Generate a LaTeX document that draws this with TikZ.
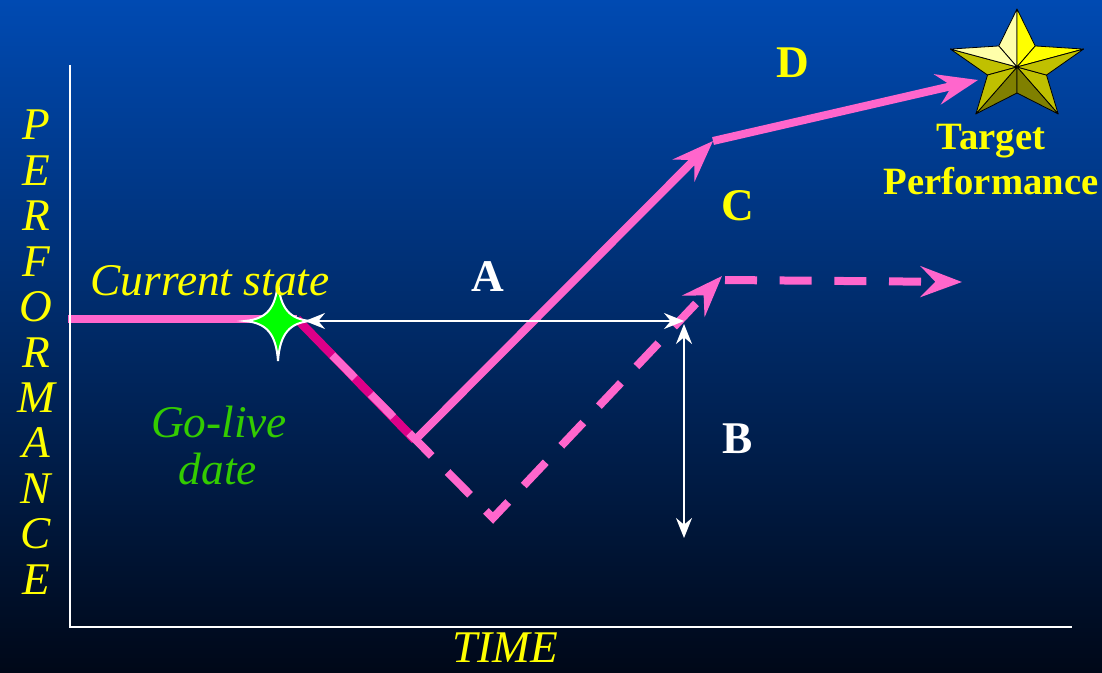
\documentclass[tikz,border=0pt]{standalone}
\usepackage{fontspec}
\setmainfont{Liberation Serif}
\usetikzlibrary{arrows.meta, calc}
\definecolor{bgtop}{RGB}{0,74,178}
\definecolor{bgmid}{RGB}{0,40,108}
\definecolor{bgbot}{RGB}{0,8,24}
\definecolor{trendpink}{RGB}{255,102,204}
\definecolor{dippink}{RGB}{221,0,136}
\definecolor{labelyellow}{RGB}{255,255,0}
\definecolor{golivegreen}{RGB}{51,204,0}
\definecolor{starlight}{RGB}{255,255,170}
\definecolor{staryellow}{RGB}{255,255,0}
\definecolor{starolive}{RGB}{192,192,0}
\definecolor{stardark}{RGB}{128,128,0}
\tikzset{
  axisline/.style={draw=white, line width=2.2pt, line join=miter},
  trendline/.style={draw=trendpink, line width=6pt},
  trendarr/.style={trendline, -{Stealth[length=31pt, width=23pt, inset=11pt]}},
  planarr/.style={trendarr, dash pattern=on 24pt off 17pt},
  dipline/.style={draw=dippink, line width=6.5pt},
  gaparr/.style={draw=white, line width=1.5pt,
                 {Stealth[length=15pt, width=12pt, inset=5pt]}-{Stealth[length=15pt, width=12pt, inset=5pt]}},
  axislabel/.style={text=labelyellow, font=\fontsize{34}{34}\selectfont\itshape,
                    inner sep=0pt, anchor=base},
  golivelabel/.style={axislabel, text=golivegreen},
  pathlabel/.style={text=labelyellow, font=\fontsize{34}{34}\selectfont\bfseries,
                    inner sep=0pt, anchor=base},
  gaplabel/.style={pathlabel, text=white},
  targetlabel/.style={pathlabel, font=\fontsize{29}{29}\selectfont\bfseries},
  starface/.style={draw=black, line width=0.6pt, line join=round},
}

\begin{document}
\begin{tikzpicture}[x=0.75pt, y=-0.75pt]
  % Background
  \useasboundingbox (0,0) rectangle (1102,673);
  \shade[top color=bgtop, middle color=bgmid, bottom color=bgbot] (0,0) rectangle (1102,673);

  % Coordinates
  \coordinate (origin) at (70,627);
  \coordinate (ytop) at (70,65);
  \coordinate (xend) at (1072,627);
  \coordinate (start) at (68,319);
  \coordinate (golive) at (278,321);
  \coordinate (drop) at (297,319);
  \coordinate (low) at (415,440);
  \coordinate (dashstart) at ($(drop)!0.3!(low)$);
  \coordinate (dip) at (493,518);
  \coordinate (cnew) at (722,276);
  \coordinate (cflat) at (725,280);
  \coordinate (cend) at (962,282);
  \coordinate (knee) at (713,141);
  \coordinate (dend) at (978,80);
  \coordinate (astart) at (305,321);
  \coordinate (aend) at (684,321);
  \coordinate (bstart) at (684,324);
  \coordinate (bend) at (684,538);
  \coordinate (target) at (1017,67);

  % Trend lines
  \draw[trendline] (start) -- (drop);
  \draw[dipline] (drop) -- (low);
  \draw[planarr] (dashstart) -- (dip) -- (cnew);
  \draw[planarr] (cflat) -- (cend);
  \draw[trendarr] (low) -- (knee);
  \draw[trendarr] (knee) -- (dend);

  % Axes
  \draw[axisline] (ytop) -- (origin) -- (xend);

  % Gap arrows
  \draw[gaparr] (astart) -- (aend);
  \draw[gaparr] (bstart) -- (bend);

  % Go-live marker
  \begin{scope}[shift={(golive)}]
    \filldraw[fill=green, draw=white, line width=1.5pt]
      (0,-40) .. controls (2,-12) and (12,-2) .. (32,0)
      .. controls (12,2) and (2,12) .. (0,40)
      .. controls (-2,12) and (-12,2) .. (-33,0)
      .. controls (-12,-2) and (-2,-12) .. (0,-40) -- cycle;
  \end{scope}

  % Target star
  \begin{scope}[shift={(target)}]
    \foreach \a/\cl/\cr in {90/starlight/staryellow, 162/starolive/starlight,
                            234/stardark/starolive, 306/starolive/stardark,
                            18/staryellow/starolive}{
      \filldraw[starface, fill=\cl] (0,0) -- (-\a:70 and 58) -- ({-\a-36}:31 and 26) -- cycle;
      \filldraw[starface, fill=\cr] (0,0) -- (-\a:70 and 58) -- ({-\a+36}:31 and 26) -- cycle;
    }
  \end{scope}

  % Labels
  \foreach \l [count=\i] in {P,E,R,F,O,R,M,A,N,C,E}
    \node[axislabel] (perf\i) at (36,{140+45.4*(\i-1)}) {\l};
  \node[axislabel] (timelabel) at (505,662) {TIME};
  \node[axislabel] (current) at (210,296) {Current state};
  \node[golivelabel] (golive1) at (219,437) {Go-live};
  \node[golivelabel] (golive2) at (218,484) {date};
  \node[gaplabel] (gapA) at (488,292) {A};
  \node[gaplabel] (gapB) at (738,453) {B};
  \node[pathlabel] (pathC) at (738,221) {C};
  \node[pathlabel] (pathD) at (793,78) {D};
  \node[targetlabel] (target1) at (991,150) {Target};
  \node[targetlabel] (target2) at (991,195) {Performance};
\end{tikzpicture}
\end{document}
